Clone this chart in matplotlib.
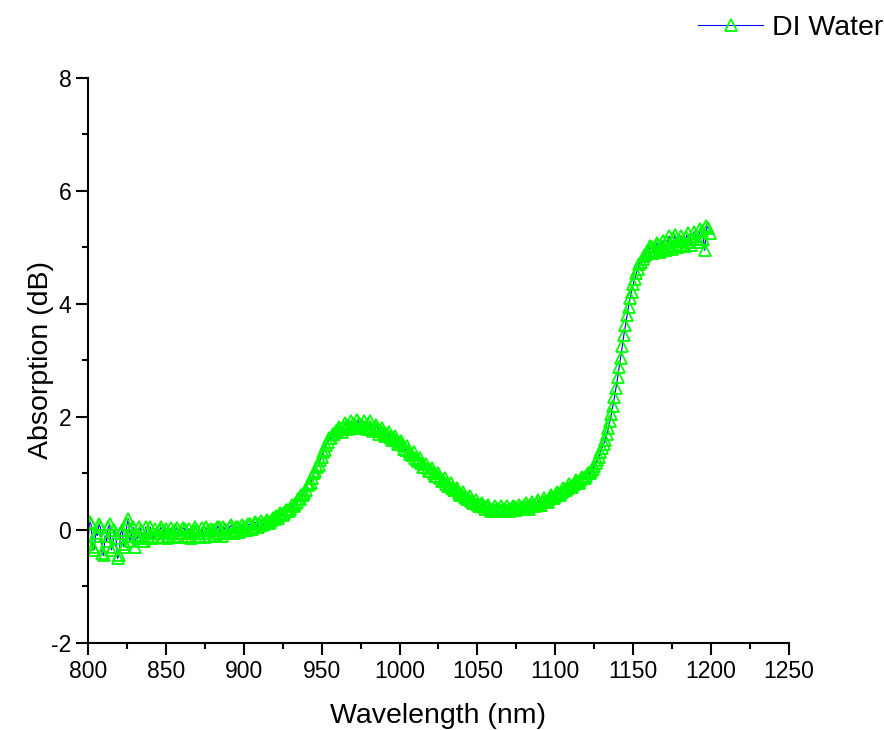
import numpy as np
import matplotlib
matplotlib.use("Agg")
import matplotlib.pyplot as plt

plt.rcParams['font.family'] = ['Liberation Sans', 'DejaVu Sans']
plt.rcParams['axes.unicode_minus'] = False

# --------------------------------------------
# DATA (1 nm steps)
# --------------------------------------------
wavelength = np.arange(800, 1200, 1)

absorption = [
    -0.25, 0.15, 0.10, -0.30, -0.35, -0.05, -0.10, 0.10, 0.05, -0.40,   # 800
    -0.45, -0.10, -0.20, 0.05, 0.10, -0.35, -0.30, 0.00, -0.15, -0.50,  # 810
    -0.45, -0.05, 0.00, -0.30, -0.25, 0.10, 0.20, -0.20, -0.10, 0.05,   # 820
    -0.30, -0.10, -0.15, 0.05, 0.00, -0.20, -0.20, 0.05, -0.05, -0.15,  # 830
    0.05, -0.10, -0.15, 0.02, -0.05, -0.12, 0.00, 0.05, -0.12, -0.02,   # 840
    0.02, -0.15, -0.10, 0.03, -0.05, -0.10, 0.00, 0.04, -0.12, -0.05,   # 850
    -0.05, 0.03, 0.02, -0.12, -0.10, 0.02, -0.15, -0.05, -0.02, 0.05,   # 860
    0.00, -0.10, -0.12, 0.04, -0.05, -0.12, 0.05, 0.00, -0.10, 0.02,    # 870
    0.00, -0.10, -0.08, 0.06, 0.05, -0.05, -0.10, 0.05, 0.02, -0.06,    # 880
    -0.05, 0.06, 0.08, -0.02, -0.05, 0.05, 0.05, -0.03, 0.00, 0.08,     # 890
    0.05, 0.00, 0.00, 0.10, 0.10, 0.02, 0.05, 0.14, 0.12, 0.06,         # 900
    0.10, 0.16, 0.08, 0.10, 0.15, 0.18, 0.12, 0.15, 0.18, 0.22,         # 910
    0.20, 0.24, 0.22, 0.30, 0.28, 0.26, 0.30, 0.36, 0.35, 0.33,         # 920
    0.38, 0.44, 0.42, 0.46, 0.50, 0.55, 0.55, 0.62, 0.62, 0.66,         # 930
    0.70, 0.80, 0.82, 0.84, 0.92, 1.00, 1.05, 1.12, 1.15, 1.24,         # 940
    1.30, 1.38, 1.42, 1.50, 1.55, 1.62, 1.62, 1.70, 1.70, 1.76,         # 950
    1.75, 1.82, 1.78, 1.74, 1.82, 1.90, 1.85, 1.78, 1.83, 1.92,         # 960
    1.88, 1.80, 1.84, 1.95, 1.90, 1.80, 1.85, 1.93, 1.83, 1.78,         # 970
    1.88, 1.92, 1.80, 1.76, 1.82, 1.86, 1.78, 1.70, 1.75, 1.80,         # 980
    1.72, 1.66, 1.70, 1.74, 1.65, 1.60, 1.62, 1.66, 1.60, 1.52,         # 990
    1.55, 1.58, 1.50, 1.44, 1.42, 1.48, 1.40, 1.34, 1.33, 1.38,         # 1000
    1.28, 1.24, 1.22, 1.27, 1.18, 1.12, 1.12, 1.17, 1.10, 1.05,         # 1010
    1.05, 1.10, 1.00, 0.95, 0.96, 1.00, 0.92, 0.86, 0.88, 0.92,         # 1020
    0.82, 0.78, 0.78, 0.83, 0.75, 0.70, 0.70, 0.75, 0.66, 0.62,         # 1030
    0.62, 0.67, 0.58, 0.55, 0.55, 0.60, 0.52, 0.48, 0.48, 0.53,         # 1040
    0.46, 0.42, 0.44, 0.48, 0.42, 0.38, 0.40, 0.44, 0.38, 0.34,         # 1050
    0.37, 0.42, 0.36, 0.33, 0.38, 0.42, 0.36, 0.33, 0.37, 0.42,         # 1060
    0.38, 0.34, 0.37, 0.43, 0.40, 0.35, 0.38, 0.45, 0.40, 0.37,         # 1070
    0.42, 0.48, 0.41, 0.38, 0.44, 0.50, 0.45, 0.42, 0.47, 0.53,         # 1080
    0.46, 0.44, 0.50, 0.56, 0.52, 0.50, 0.55, 0.62, 0.58, 0.56,         # 1090
    0.60, 0.67, 0.64, 0.62, 0.68, 0.75, 0.72, 0.70, 0.75, 0.82,         # 1100
    0.78, 0.76, 0.82, 0.88, 0.85, 0.83, 0.88, 0.94, 0.92, 0.92,         # 1110
    0.95, 1.00, 1.00, 1.04, 1.08, 1.14, 1.18, 1.24, 1.30, 1.38,         # 1120
    1.45, 1.52, 1.60, 1.70, 1.80, 1.92, 2.05, 2.20, 2.35, 2.52,         # 1130
    2.70, 2.88, 3.05, 3.25, 3.45, 3.62, 3.80, 3.95, 4.10, 4.22,         # 1140
    4.35, 4.45, 4.55, 4.62, 4.70, 4.75, 4.80, 4.85, 4.88, 4.92,         # 1150
    4.95, 5.02, 5.00, 4.90, 4.95, 5.08, 5.05, 4.92, 5.00, 5.12,         # 1160
    4.98, 4.95, 5.10, 5.20, 5.02, 4.98, 5.15, 5.22, 5.05, 5.00,         # 1170
    5.12, 5.20, 5.05, 5.02, 5.18, 5.25, 5.10, 5.05, 5.15, 5.28,         # 1180
    5.20, 5.10, 5.10, 5.32, 5.30, 5.15, 4.95, 5.38, 5.35, 5.25,         # 1190
]

# --------------------------------------------
# PLOT
# --------------------------------------------
fig = plt.figure(figsize=(8.84, 7.3), dpi=100)
ax = fig.add_axes([0.0995, 0.1192, 0.793, 0.774])

ax.plot(wavelength, absorption, color="blue", linewidth=0.8,
        marker="^", markersize=8, markerfacecolor="none",
        markeredgecolor="#00ff00", markeredgewidth=1.3, label="DI Water")

ax.set_xlim(800, 1250)
ax.set_ylim(-2, 8)
ax.set_xticks(np.arange(800, 1251, 50))
ax.set_xticks(np.arange(825, 1250, 50), minor=True)
ax.set_yticks(np.arange(-2, 9, 2))
ax.set_yticks(np.arange(-1, 8, 2), minor=True)

for side in ["top", "right"]:
    ax.spines[side].set_visible(False)
for side in ["left", "bottom"]:
    ax.spines[side].set_linewidth(1.5)

ax.tick_params(which="major", direction="out", length=8.5, width=1.5, labelsize=16.5)
ax.tick_params(which="minor", direction="out", length=4.5, width=1.5)

ax.set_xlabel("Wavelength (nm)", fontsize=20.5, labelpad=15)
ax.set_ylabel("Absorption (dB)", fontsize=20.5, labelpad=-2)

fig.legend(loc="upper right", bbox_to_anchor=(1.012, 0.995), frameon=False,
           fontsize=20.5, handlelength=2.3, handletextpad=0.3, borderaxespad=0.0)

fig.savefig("out.png", dpi=100)
